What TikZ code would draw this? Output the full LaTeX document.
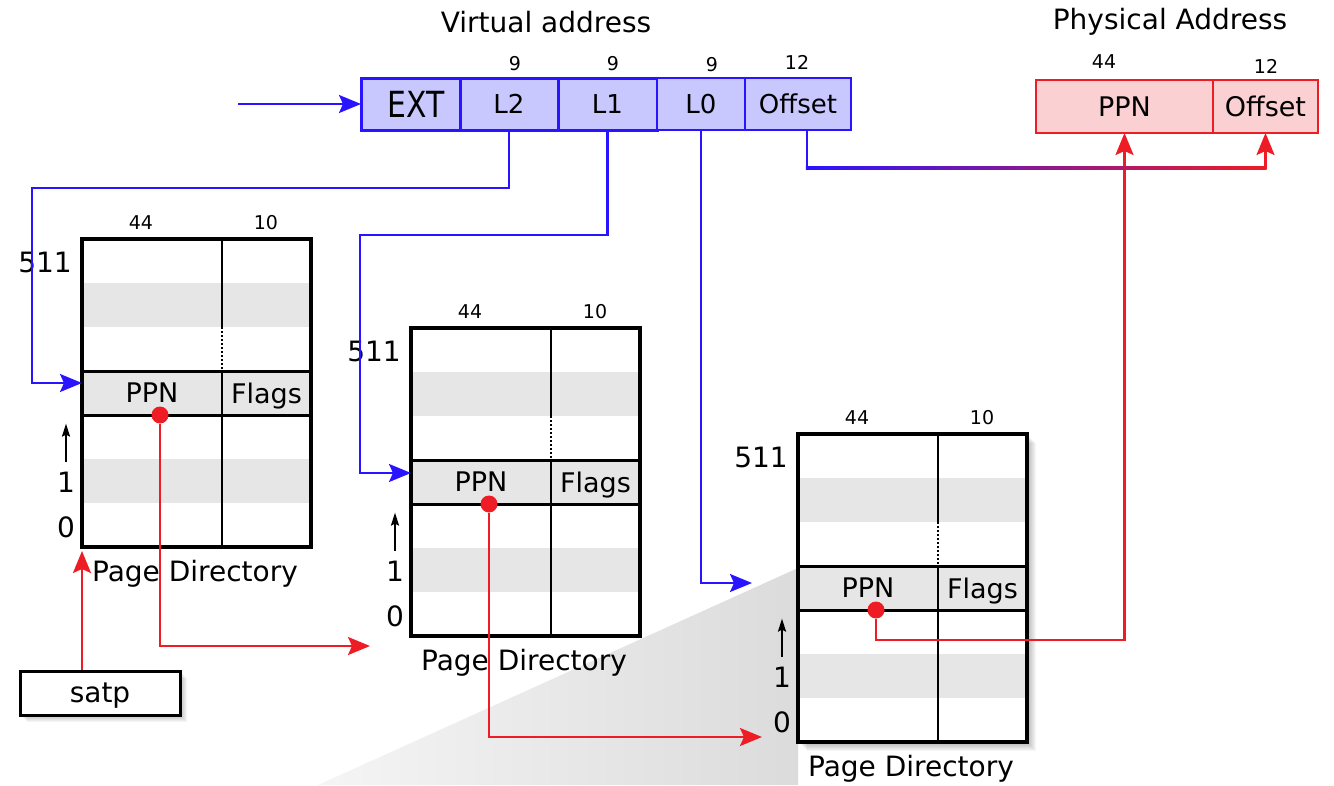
\documentclass[tikz,border=0pt]{standalone}
\usepackage{fontspec}
\setmainfont{DejaVu Sans}
\usetikzlibrary{arrows.meta,positioning,calc}

\definecolor{vblue}{RGB}{40,20,255}
\definecolor{vfill}{RGB}{200,200,255}
\definecolor{pred}{RGB}{238,28,36}
\definecolor{pfill}{RGB}{250,208,210}
\definecolor{rowgray}{RGB}{230,230,230}

\begin{document}
\begin{tikzpicture}[x=1pt,y=-1pt,
    >={Stealth[length=22pt,width=18pt,inset=4pt]},
    lbl/.style={font=\fontsize{28}{30}\selectfont,inner sep=0pt},
    bits/.style={font=\fontsize{19}{21}\selectfont,inner sep=0pt},
    vbox/.style={draw=vblue,fill=vfill,line width=2pt,outer sep=0pt,inner sep=0pt,
                 minimum height=52pt,text depth=0pt,font=\fontsize{26}{28}\selectfont},
    pbox/.style={draw=pred,fill=pfill,line width=2pt,outer sep=0pt,inner sep=0pt,
                 minimum height=53pt,text depth=0pt,font=\fontsize{27}{30}\selectfont},
    pdframe/.style={draw,line width=3.5pt,inner sep=0pt,outer sep=0pt,
                    minimum width=229pt,minimum height=308pt,anchor=north west},
    cell/.style={lbl,font=\fontsize{27}{30}\selectfont,minimum height=44pt,text depth=0pt},
    vline/.style={vblue,line width=2.2pt},
    rline/.style={pred,line width=2.2pt},
    reddot/.style={circle,fill=pred,inner sep=0pt,minimum size=17pt},
    uparr/.style={line width=2pt,-{Stealth[length=13pt,width=8pt,inset=2pt]}},
  ]
  \useasboundingbox (0,0) rectangle (1334,785);
  \pgfmathsetmacro{\tw}{229}   %table width
  \pgfmathsetmacro{\cw}{140}   %PPN column width
  \pgfmathsetmacro{\rh}{44}    %row height
  \pgfmathsetmacro{\th}{7*\rh} %table height

  %Shaded wedge under the last table
  \shade[left color=gray!8,right color=gray!28] (798,568) -- (318,785) -- (798,785) -- cycle;

  %Soft shadow of the last table
  \foreach \s in {1,...,9}
    \fill[black,opacity=0.035] (798+\s,434+\s) rectangle (1027+\s,742+\s);

  %Draw the three page directories
  \foreach \n/\tx/\ty in {a/82/239,b/411/328,c/798/434}{
    \begin{scope}[shift={(\tx,\ty)}]
      \fill[white] (0,0) rectangle (\tw,\th);
      \fill[rowgray] (0,\rh) rectangle (\tw,2*\rh);   %grey rows
      \fill[rowgray] (0,3*\rh) rectangle (\tw,4*\rh);
      \fill[rowgray] (0,5*\rh) rectangle (\tw,6*\rh);
      \draw[line width=2pt] (\cw,0) -- (\cw,2*\rh);   %column line
      \draw[line width=2pt,dotted] (\cw,2*\rh) -- (\cw,3*\rh);
      \draw[line width=2pt] (\cw,3*\rh) -- (\cw,\th);
      \draw[line width=3pt] (0,3*\rh) -- (\tw,3*\rh); %PPN row
      \draw[line width=3pt] (0,4*\rh) -- (\tw,4*\rh);
      \node[pdframe] (tab\n) at (0,0) {};
      \node[cell] (ppn\n) at (\cw/2,3.5*\rh) {PPN};
      \node[cell] (flags\n) at ({(\cw+\tw)/2},3.5*\rh) {Flags};
      \node[bits] (wppn\n) at (59,-16) {44};
      \node[bits] (wflags\n) at (184,-16) {10};
      \node[lbl] (top\n) at (-37,23) {511};
      \node[lbl] (one\n) at (-16,243) {1};
      \node[lbl] (zero\n) at (-16,288) {0};
      \node[lbl] (name\n) at (113,335) {Page Directory};
      \node[reddot] (dot\n) at (78,4*\rh) {};
      \draw[uparr] ([yshift=10pt]one\n.north) -- ++(0,-38);
    \end{scope}
  }

  %satp register
  \foreach \s in {1,...,7}
    \fill[black,opacity=0.04] (20+\s,671+\s) rectangle (180+\s,715+\s);
  \node[draw,fill=white,line width=3pt,minimum width=160pt,minimum height=44pt,
        text depth=0pt,lbl] (satp) at (100,693) {satp};

  %Virtual address
  \node[lbl] (vtitle) at (546,22) {Virtual address};
  \node[vbox,minimum width=99pt,line width=3pt,anchor=west] (ext) at (361,104)
    {\hspace*{12pt}\scalebox{0.83}[1]{\fontsize{36}{38}\selectfont EXT}};
  \node[vbox,minimum width=98pt,line width=3pt,right=0pt of ext] (l2) {L2};
  \node[vbox,minimum width=99pt,line width=3pt,right=0pt of l2] (l1) {L1};
  \node[vbox,minimum width=88pt,right=0pt of l1] (l0) {L0};
  \node[vbox,minimum width=106pt,right=0pt of l0] (voff) {Offset};
  \node[bits] (w2) at (515,64) {9};
  \node[bits] (w1) at (613,64) {9};
  \node[bits] (w0) at (712,65) {9};
  \node[bits] (woff) at (797,62) {12};

  %Physical address
  \node[lbl] (ptitle) at (1170,22) {Physical Address};
  \node[pbox,minimum width=177pt,anchor=west] (pppn) at (1036,106.5) {PPN};
  \node[pbox,minimum width=105pt,right=0pt of pppn] (poff) {Offset};
  \node[bits] (wpp) at (1104,62) {44};
  \node[bits] (wpo) at (1266,66) {12};

  %Index walk (blue)
  \coordinate (vin) at (238,104);
  \coordinate (c2) at (32,188);
  \coordinate (c1) at (360,235);
  \draw[vline,->] (vin) -- (ext.west);
  \draw[vline,->] (l2.south) |- (c2) |- ($(taba.north west)+(0,144)$);
  \draw[vline,->] (l1.south) |- (c1) |- ($(tabb.north west)+(0,145)$);
  \draw[vline,->] (l0.south) |- ($(tabc.north west)+(-46,149)$);

  %PPN walk (red)
  \draw[rline,->,shorten >=4pt] (satp.north -| taba.south west) -- (taba.south west);
  \draw[rline,->] (dota) |- ($(tabb.north west)+(-41,318)$);
  \draw[rline,->] (dotb) |- ($(tabc.north west)+(-36,303)$);
  \coordinate (cc) at ($(dotc)+(0,30)$);
  \draw[rline,->] (dotc) -- (cc) -| (pppn.south);

  %Offset goes straight through
  \coordinate (ol) at ($(voff.south)+(9,38)$);
  \coordinate (or) at (poff.south |- ol);
  \draw[vline] ([xshift=9pt]voff.south) -- (ol);
  \shade[left color=vblue,right color=pred] ($(ol)+(-1.1,-1.1)$) rectangle ($(or)+(1.1,1.1)$);
  \draw[rline,->] (or) -- (poff.south);
\end{tikzpicture}
\end{document}
